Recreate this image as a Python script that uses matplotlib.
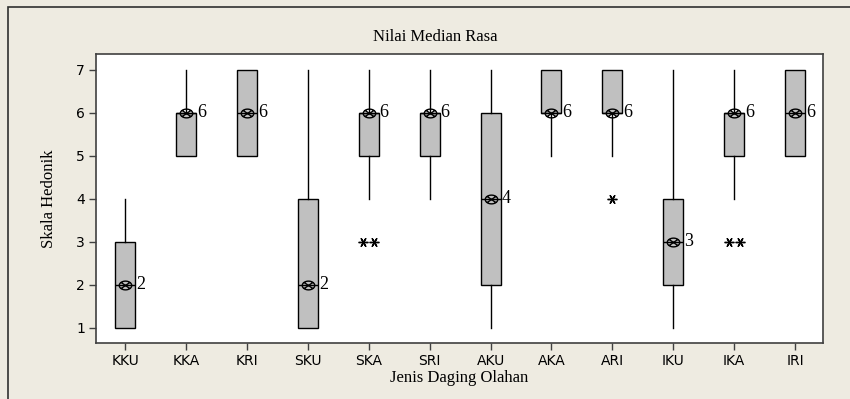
import numpy as np
import matplotlib
matplotlib.use("Agg")
import matplotlib.pyplot as plt
from matplotlib.patches import Rectangle
from matplotlib.path import Path

# Data (Minitab style)
categories = ["KKU", "KKA", "KRI", "SKU", "SKA", "SRI",
              "AKU", "AKA", "ARI", "IKU", "IKA", "IRI"]
q1 = [1, 5, 5, 1, 5, 5, 2, 6, 6, 2, 5, 5]
q3 = [3, 6, 7, 4, 6, 6, 6, 7, 7, 4, 6, 7]
medians = [2, 6, 6, 2, 6, 6, 4, 6, 6, 3, 6, 6]
whisk_lo = [1, 5, 5, 1, 4, 4, 1, 5, 5, 1, 4, 5]
whisk_hi = [4, 7, 7, 7, 7, 7, 7, 7, 7, 7, 7, 7]
outliers = [[], [], [], [], [3, 3], [], [], [], [4], [], [3, 3], []]

BG = "#EEEBE1"
BOX_FILL = "#C0C0C0"
SERIF = "Liberation Serif"

# Minitab-like median symbol: flattened circle with a cross inside
t = np.linspace(0, 2 * np.pi, 40)
ell = np.column_stack([np.cos(t), 0.7 * np.sin(t)])
c = np.cos(np.pi / 4)
verts = list(ell) + [(-c, -0.7 * c), (c, 0.7 * c), (-c, 0.7 * c), (c, -0.7 * c)]
codes = [Path.MOVETO] + [Path.LINETO] * (len(ell) - 1) + \
        [Path.MOVETO, Path.LINETO, Path.MOVETO, Path.LINETO]
MED_MARKER = Path(verts, codes)

fig = plt.figure(figsize=(8.5, 3.99), dpi=100, facecolor=BG)
ax = fig.add_axes([96 / 850, 1 - 343 / 399, 727 / 850, 289 / 399])
ax.set_facecolor("white")

# outer frame of the graph region
fig.patches.append(Rectangle((8 / 850, -0.05), 1.0, 1 - 7 / 399 + 0.05,
                             transform=fig.transFigure, fill=False,
                             edgecolor="#303030", linewidth=1.2, zorder=0))

positions = np.arange(1, len(categories) + 1)
stats = []
for i, name in enumerate(categories):
    stats.append(dict(label=name, med=medians[i], q1=q1[i], q3=q3[i],
                      whislo=whisk_lo[i], whishi=whisk_hi[i], fliers=[]))

ax.bxp(stats, positions=positions, widths=0.33, patch_artist=True,
       showcaps=False, showfliers=False,
       boxprops=dict(facecolor=BOX_FILL, edgecolor="black", linewidth=1.0),
       whiskerprops=dict(color="black", linewidth=1.0),
       medianprops=dict(color="black", linewidth=1.0))

# median symbols and labels
ax.plot(positions, medians, linestyle="none", marker=MED_MARKER, markersize=9,
        markerfacecolor="none", markeredgecolor="black", markeredgewidth=1.0, zorder=5)
for x, m in zip(positions, medians):
    ax.text(x + 0.18, m, f"{m}", family=SERIF, fontsize=13,
            ha="left", va="center", zorder=6)

# outliers (ties drawn side by side)
for x, pts in zip(positions, outliers):
    vals, counts = np.unique(pts, return_counts=True) if pts else ([], [])
    for v, cnt in zip(vals, counts):
        offs = (np.arange(cnt) - (cnt - 1) / 2) * 0.18
        ax.plot(x + offs, [v] * cnt, linestyle="none", marker=(6, 2, 90),
                markersize=7, color="black", markeredgewidth=1.0, zorder=5)

ax.set_xlim(0.52, 12.46)
ax.set_ylim(0.65, 7.37)
ax.set_xticks(positions)
ax.set_xticklabels(categories)
ax.set_yticks([1, 2, 3, 4, 5, 6, 7])
ax.tick_params(axis="both", direction="out", length=5, width=1,
               color="#404040", labelsize=10, pad=3)
for s in ax.spines.values():
    s.set_color("#404040")
    s.set_linewidth(1.2)

ax.set_xlabel("Jenis Daging Olahan", family=SERIF, fontsize=12, labelpad=1)
ax.set_ylabel("Skala Hedonik", family=SERIF, fontsize=12, labelpad=14)
fig.text(435 / 850, 1 - 37 / 399, "Nilai Median Rasa", family=SERIF,
         fontsize=12, ha="center", va="center")

fig.savefig("out.png", dpi=100, facecolor=BG)
